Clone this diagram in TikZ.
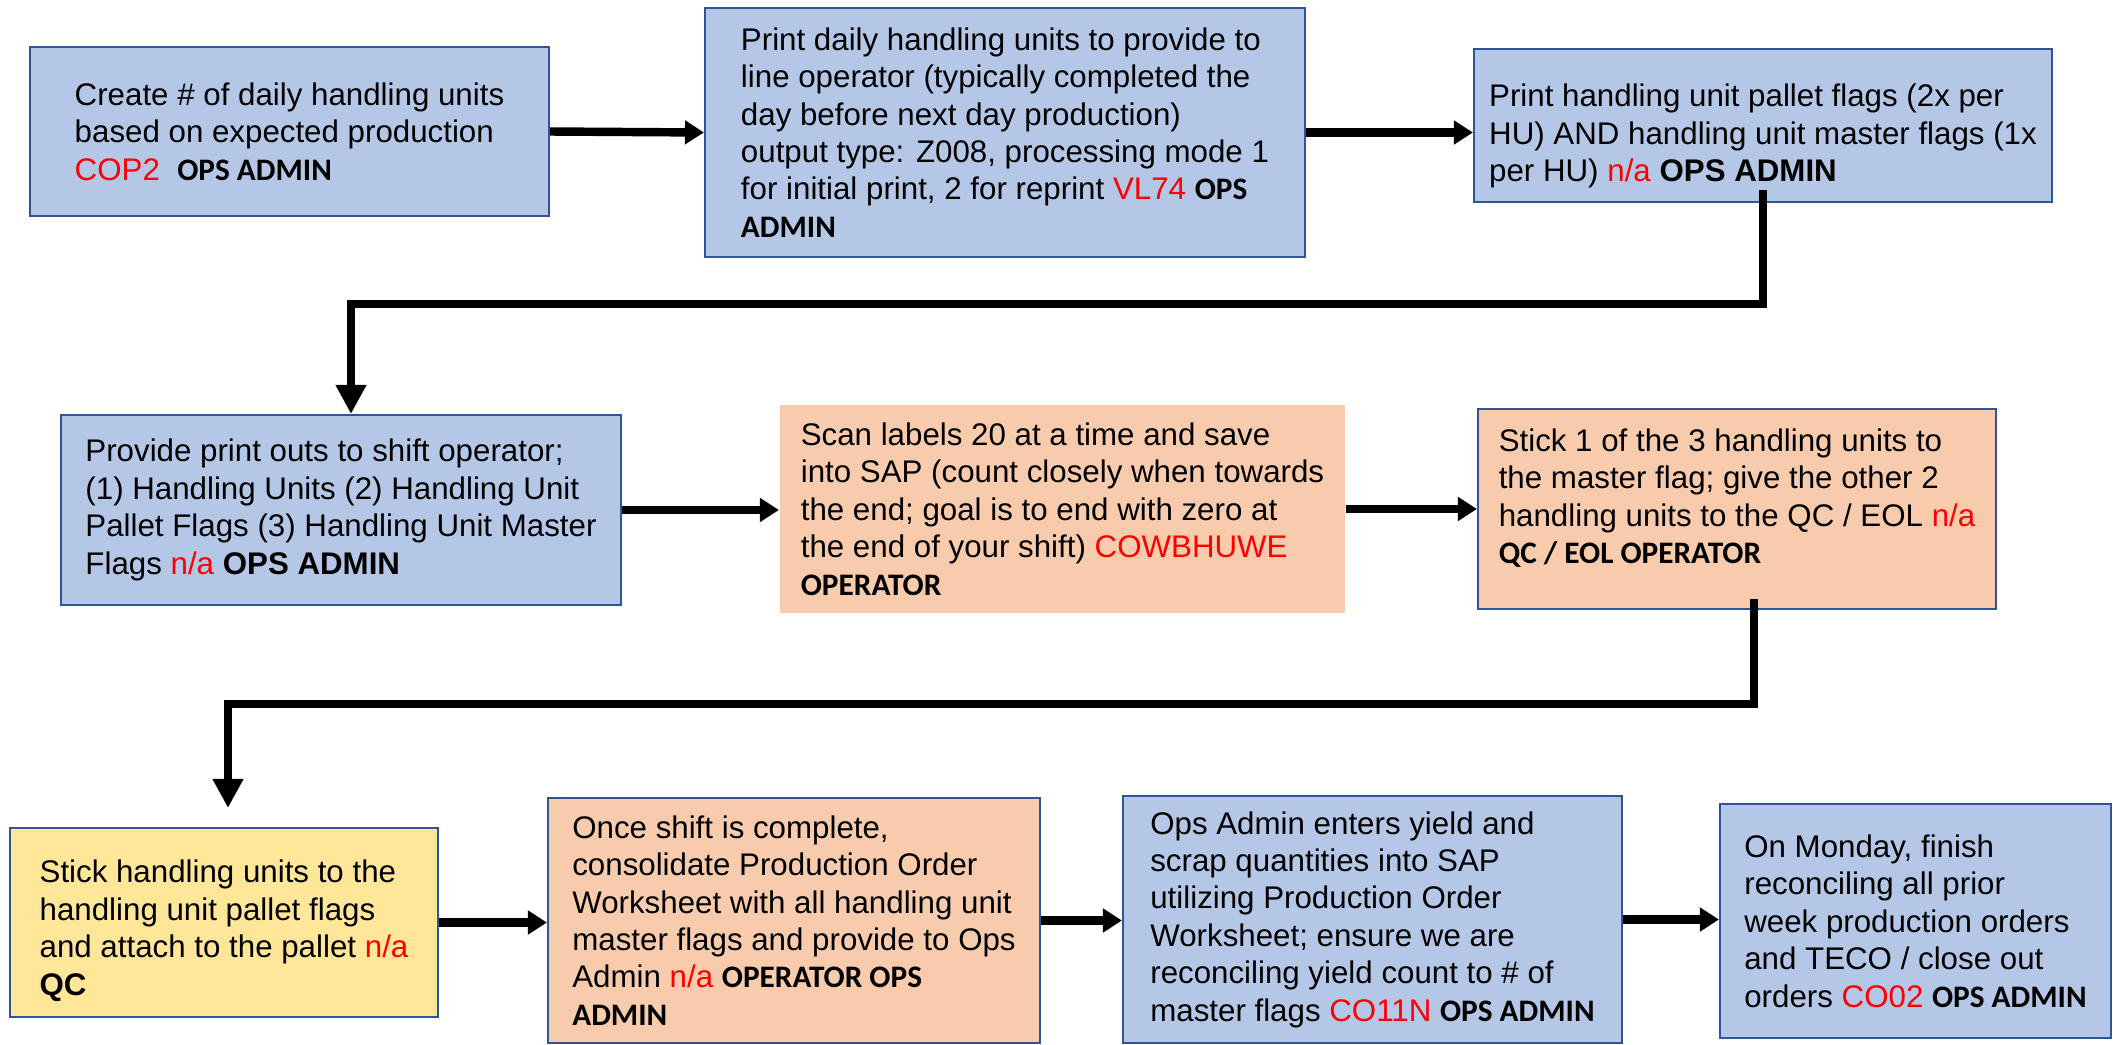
\documentclass[tikz,border=0pt]{standalone}
\usepackage{fontspec}
\setmainfont{Liberation Sans}
\newfontfamily\calibri{Carlito}
\usetikzlibrary{arrows.meta}
\definecolor{boxblue}{RGB}{180,199,231}
\definecolor{boxorange}{RGB}{248,203,173}
\definecolor{boxyellow}{RGB}{255,230,153}
\definecolor{boxedge}{RGB}{47,85,151}
\newcommand{\tcode}[1]{\textcolor{red}{#1}}
\newcommand{\trole}[1]{{\calibri\bfseries #1}}

\begin{document}
\begin{tikzpicture}[
    stepbox/.style={draw=boxedge, line width=1.2pt, align=left, inner sep=0pt,
        font=\fontsize{17.8pt}{21.3pt}\selectfont},
    bluebox/.style={stepbox, fill=boxblue},
    orangebox/.style={stepbox, fill=boxorange},
    yellowbox/.style={stepbox, fill=boxyellow},
    flowline/.style={line width=\LineW pt, -{Triangle[length=0.38cm,width=0.46cm]}},
    dropline/.style={line width=\LineW pt, -{Triangle[length=0.58cm,width=0.58cm]}}
]
    \pgfmathsetmacro{\LineW}{4.8}
    \useasboundingbox (0,0) rectangle (42.26,-20.9);
    % TOP ROW
    \node[bluebox, minimum width=10.38cm, minimum height=3.38cm] (create) at (5.79,-2.63)
        {Create \# of daily handling units\\based on expected production\\\tcode{COP2}\ \ \trole{OPS ADMIN}};
    \node[bluebox, minimum width=12cm, minimum height=4.98cm] (printhu) at (20.10,-2.65)
        {Print daily handling units to provide to\\line operator (typically completed the\\day before next day production)\\output type: Z008, processing mode 1\\for initial print, 2 for reprint \tcode{VL74} \trole{OPS}\\\trole{ADMIN}};
    \node[bluebox, minimum width=11.56cm, minimum height=3.06cm] (printflags) at (35.26,-2.51)
        {\rule{0pt}{0.87cm}Print handling unit pallet flags (2x per\\HU) AND handling unit master flags (1x\\per HU) \tcode{n/a} \textbf{OPS ADMIN}};
    % MIDDLE ROW
    \node[bluebox, minimum width=11.2cm, minimum height=3.8cm] (provide) at (6.82,-10.20)
        {Provide print outs to shift operator;\\(1) Handling Units (2) Handling Unit\\Pallet Flags (3) Handling Unit Master\\Flags \tcode{n/a} \textbf{OPS ADMIN}};
    \node[orangebox, draw=none, minimum width=11.3cm, minimum height=4.16cm] (scan) at (21.25,-10.18)
        {Scan labels 20 at a time and save\\into SAP (count closely when towards\\the end; goal is to end with zero at\\the end of your shift) \tcode{COWBHUWE}\\\trole{OPERATOR}};
    \node[orangebox, minimum width=10.36cm, minimum height=4cm] (stickmaster) at (34.74,-10.18)
        {Stick 1 of the 3 handling units to\\the master flag; give the other 2\\handling units to the QC / EOL \tcode{n/a}\\\trole{QC / EOL OPERATOR}\rule[-0.52cm]{0pt}{0.52cm}};
    % BOTTOM ROW
    \node[yellowbox, minimum width=8.56cm, minimum height=3.78cm] (stickpallet) at (4.48,-18.45)
        {\rule{0pt}{0.78cm}Stick handling units to the\\handling unit pallet flags\\and attach to the pallet \tcode{n/a}\\\textbf{QC}};
    \node[orangebox, minimum width=9.84cm, minimum height=4.9cm] (consolidate) at (15.88,-18.41)
        {Once shift is complete,\\consolidate Production Order\\Worksheet with all handling unit\\master flags and provide to Ops\\Admin \tcode{n/a} \trole{OPERATOR OPS}\\\trole{ADMIN}};
    \node[bluebox, minimum width=9.98cm, minimum height=4.94cm] (enteryield) at (27.45,-18.39)
        {Ops Admin enters yield and\\scrap quantities into SAP\\utilizing Production Order\\Worksheet; ensure we are\\reconciling yield count to \# of\\master flags \tcode{CO11N} \trole{OPS ADMIN}};
    \node[bluebox, minimum width=7.82cm, minimum height=4.68cm] (reconcile) at (38.31,-18.42)
        {On Monday, finish\\reconciling all prior\\week production orders\\and TECO / close out\\orders \tcode{CO02} \trole{OPS ADMIN}};
    % CONNECTORS
    \coordinate (bendA) at (7.02,-6.08);
    \coordinate (bendB1) at (35.08,-14.08);
    \coordinate (bendB2) at (4.56,-14.08);
    \draw[flowline] (create.east) -- (printhu.west);
    \draw[flowline] (printhu.east) -- (printhu.east -| printflags.west);
    \draw[dropline] ([yshift=0.26cm]printflags.south) |- (bendA) -- (provide.north -| bendA);
    \draw[flowline] (provide.east) -- (provide.east -| scan.west);
    \draw[flowline] (scan.east) -- (scan.east -| stickmaster.west);
    \draw[dropline, shorten >=0.38cm] ([yshift=0.22cm]stickmaster.south -| bendB1) -- (bendB1) -- (bendB2) -- (bendB2 |- stickpallet.north);
    \draw[flowline] (stickpallet.east) -- (stickpallet.east -| consolidate.west);
    \draw[flowline] (consolidate.east) -- (consolidate.east -| enteryield.west);
    \draw[flowline] (enteryield.east) -- (enteryield.east -| reconcile.west);
\end{tikzpicture}
\end{document}
